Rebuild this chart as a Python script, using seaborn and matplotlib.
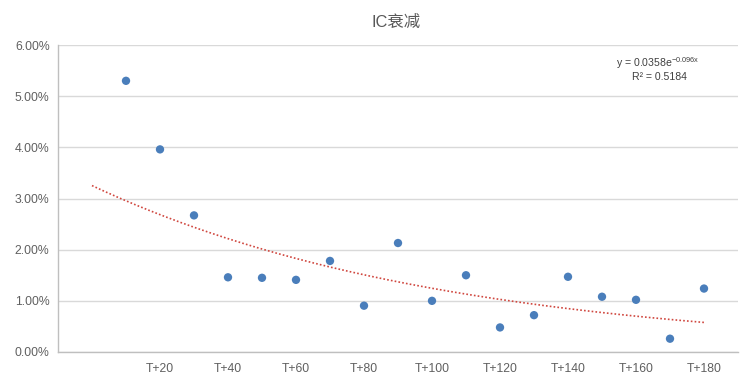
import numpy as np
import pandas as pd
import matplotlib
matplotlib.use("Agg")
import matplotlib.pyplot as plt
import seaborn as sns

# ---- data ----
categories = ["T+10", "T+20", "T+30", "T+40", "T+50", "T+60", "T+70", "T+80", "T+90",
              "T+100", "T+110", "T+120", "T+130", "T+140", "T+150", "T+160", "T+170", "T+180"]
ic_values = [5.30, 3.96, 2.67, 1.46, 1.45, 1.41, 1.78, 0.905, 2.13,
             1.00, 1.50, 0.48, 0.72, 1.47, 1.08, 1.02, 0.26, 1.24]  # percent
trend_a = 0.0358
trend_b = -0.096
r_squared = 0.5184
title = "IC衰减"

sns.set_theme(style="white")
plt.rcParams['font.family'] = ['Liberation Sans', 'Noto Sans CJK SC', 'DejaVu Sans']

# positions: T+10 sits at x=2 (one blank slot + backward period), axis 0..20
pos = np.arange(len(categories)) + 2
df = pd.DataFrame({"x": pos, "ic": np.array(ic_values) / 100.0, "cat": categories})

fig = plt.figure(figsize=(7.47, 3.81), dpi=100)
ax = fig.add_axes([58/747, 1 - 352/381, (738 - 58)/747, (352 - 45)/381])

grid_c = "#d9d9d9"
for v in np.arange(0.0, 0.061, 0.01):
    ax.axhline(v, color=grid_c, lw=1.0, zorder=0)

# trendline from the displayed equation (x = 1 .. 19)
tx = np.linspace(1, pos[-1], 200)
trend_df = pd.DataFrame({"x": tx, "y": trend_a * np.exp(trend_b * tx)})
sns.lineplot(data=trend_df, x="x", y="y", ax=ax, color="#d0473f", lw=1.2,
             linestyle=(0, (1, 1.3)), zorder=2)

sns.scatterplot(data=df, x="x", y="ic", ax=ax, color="#4a7ebb", s=36,
                edgecolor="none", zorder=3)

ax.set_xlim(0, 20)
ax.set_ylim(0, 0.06)
ax.set_yticks(np.arange(0, 0.061, 0.01))
ax.set_yticklabels([f"{v:.2f}%" for v in np.arange(0, 6.01, 1.0)])
tick_idx = list(range(1, len(categories), 2))
ax.set_xticks(pos[tick_idx])
ax.set_xticklabels([categories[i] for i in tick_idx])
ax.tick_params(axis="both", length=0, labelsize=8.8, colors="#606060")
ax.tick_params(axis="x", pad=8)
ax.tick_params(axis="y", pad=6)
ax.set_xlabel("")
ax.set_ylabel("")

for s in ["top", "right"]:
    ax.spines[s].set_visible(False)
ax.spines["left"].set_color("#bfbfbf")
ax.spines["bottom"].set_color("#bfbfbf")
ax.spines["left"].set_linewidth(1.0)
ax.spines["bottom"].set_linewidth(1.0)

fig.text(396/747, 1 - 22/381, title, ha="center", va="center", fontsize=11.8,
         color="#595959", family=['Liberation Sans', 'Noto Sans CJK SC'])

ax.text(658/747, 1 - 63/381, r"y = %.4fe$^{\mathregular{%.3fx}}$" % (trend_a, trend_b),
        transform=fig.transFigure, ha="center", va="center", fontsize=7.6, color="#404040")
ax.text(659/747, 1 - 77/381, "R² = %.4f" % r_squared,
        transform=fig.transFigure, ha="center", va="center", fontsize=7.6, color="#404040")

fig.savefig("out.png", dpi=100)
